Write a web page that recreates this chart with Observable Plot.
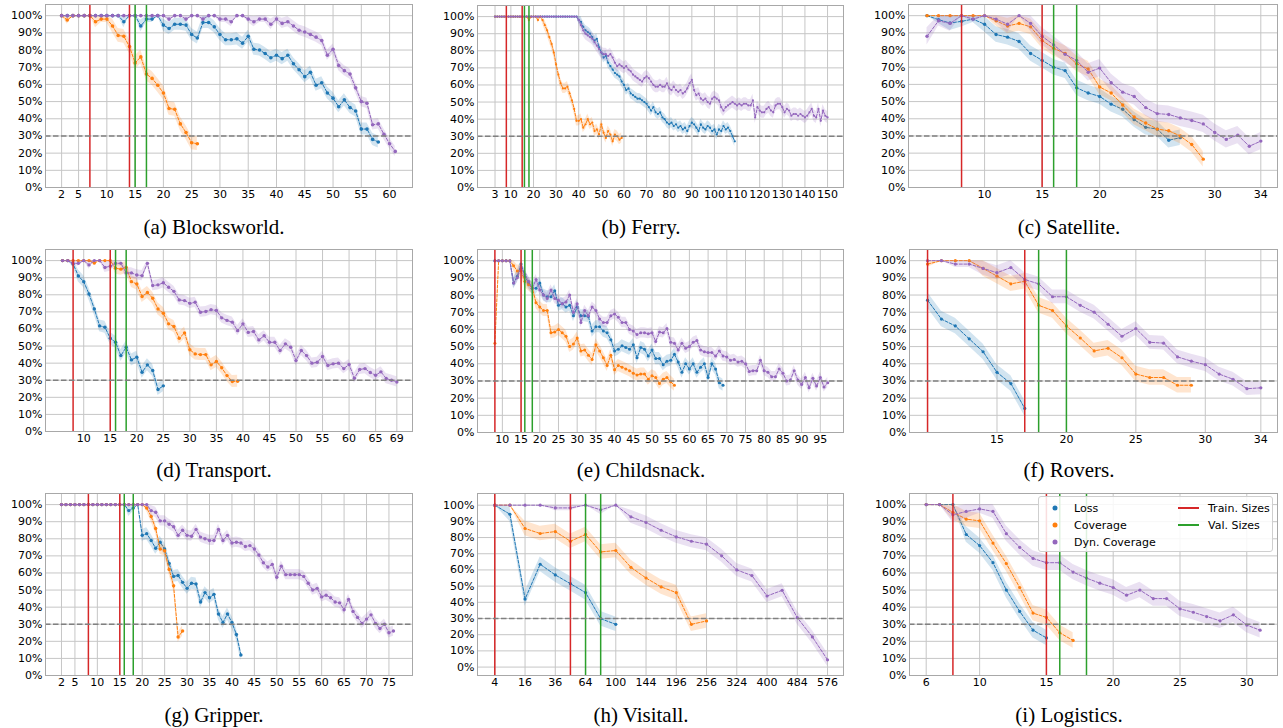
<!DOCTYPE html>
<html><head><meta charset="utf-8">
<script src="https://cdn.jsdelivr.net/npm/d3@7"></script>
<script src="https://cdn.jsdelivr.net/npm/@observablehq/plot@0.6"></script>
<style>
body{margin:0;background:#fff;width:1283px;height:728px;position:relative;overflow:hidden;font-family:"DejaVu Sans",sans-serif;}
.panel{position:absolute;}
.cap{position:absolute;font-family:"Liberation Serif","Times New Roman",serif;font-size:21px;color:#000;transform:translate(-50%,-50%);white-space:nowrap;}
.legend{position:absolute;background:rgba(255,255,255,0.85);border:1px solid #cfcfcf;border-radius:3px;font-family:"DejaVu Sans",sans-serif;font-size:11px;color:#000;}
.li{position:absolute;white-space:nowrap;transform:translateY(-50%);}
.ld{position:absolute;width:5px;height:5px;border-radius:50%;transform:translate(-50%,-50%);}
.ll{position:absolute;height:2px;width:21px;transform:translateY(-50%);}
</style></head><body>
<script>
// ---------- data (values in %) ----------
const yTicks = [0,10,20,30,40,50,60,70,80,90,100];

// (a) Blocksworld, sizes from 2
const blocksTicks = [2,5,10,15,20,25,30,35,40,45,50,55,60];
const blocksLoss = [100,100,100,100,100,100,100,100,100,100, 100,96.5,100,100,94,98,98,100,94.5,92.5,
  95,95,94.5,89,87,96,96,93.5,89,86, 86,86.5,84,88,80.5,80,78,75.5,77,75,
  77,72,68.5,64.5,67,59.5,61,55,52,47, 51,46.5,44.5,34,34,28,26.5];
const blocksCov = [100,97.5,100,100,100,100,96.5,98,98,94,88.5,88,82,72.5,76,66,63.5,59.5,55,46,45.5,37,32,26,25.5];
const blocksDyn = [100,100,100,100,100,100,100,100,100,100, 100,100,100,100,100,100,100,100,100,98,
  100,100,98,100,100,98,100,100,98,98, 96.5,100,100,98,96.5,98,98,95,98,95.5,
  96.5,94,91.5,90.5,89,87.5,85.5,77,80.5,71, 68,66,58,50,49,36.5,37,31,25.5,21];
const blocksTrain = [7,14], blocksVal = [15,17];

// (b) Ferry, sizes from 3
const ferryTicks = [3,10,20,30,40,50,60,70,80,90,100,110,120,130,140,150];
const ferryLoss = [100,100,100,100,100,100,100,100,100,100, 100,100,100,100,100,100,100,100,100,100,
  100,100,100,100,100,100,100,100,100,100, 100,100,100,100,100,100,100,
  98,97,94,92,91,90,88,86,87,82, 79,76,77,73,71,69,67,66,65,62, 60,57,58,55,54,53,52,52,51,50,
  49,47,45,47,44,43,44,41,40,38, 37,38,36,37,35,36,34,35,33,36, 38,37,35,33,37,35,34,36,35,33,
  34,31,34,33,36,34,35,33,30,27];
const ferryCov = [100,100,100,100,100,100,100,100,100,100, 100,100,100,100,100,98,100,100,100,98,
  100,98,95,92,88,84,79,72,66,61, 58,58,59,55,51,46,39,39,40,35, 37,40,37,38,33,34,31,37,32,29,
  33,31,27,31,30,28,29];
const ferryDyn = [100,100,100,100,100,100,100,100,100,100, 100,100,100,100,100,100,100,100,100,100,
  100,100,100,100,100,100,100,100,100,100, 100,100,100,100,100,100,100,
  98,95,92,90,89,88,87,85,83,81, 79,78,78,77,78,76,73,71,72,71, 70,71,69,68,66,65,64,63,62,64,
  65,64,62,60,59,59,60,59,59,61, 58,57,59,57,56,57,55,56,58,61, 63,57,54,55,52,51,52,50,49,52,
  53,52,51,47,45,47,48,49,50,49, 48,49,48,49,49,48,48,51,41,47, 45,44,44,46,47,45,44,48,49,49,
  47,44,46,45,42,43,43,42,43,42, 41,42,44,46,42,41,46,39,45,42,41];
const ferryTrain = [8,15], ferryVal = [16,18];

// (c) Satellite, sizes from 5
const satTicks = [10,15,20,25,30,34];
const satLoss = [100,97.7,95.7,96.7,98,95,89,87.5,85,78,74,70,68,58,55,53,48.5,45.5,39.5,35,34,27.5,29];
const satCov = [100,100,100,100,100,100,97,94,95.5,93.5,85.5,81,78,72,69,58.5,55,48,41,37.5,34,33,30,25,16.5];
const satDyn = [88,97,95.5,100,98,100,98,95,100,95.5,88,83,77.5,74,67,69.5,61,55.5,53,46.5,43,42.5,40.5,39,37,32,28,30.5,24,27];
const satTrain = [8,15], satVal = [16,18];

// (d) Transport, sizes from 6
const transTicks = [10,15,20,25,30,35,40,45,50,55,60,65,69];
const transLoss = [100,100,98,91,87.7,80.5,71.7,61.8,61,54.6,52.2,44.4,49.3,41.9,43.5,34.7,39,35.7,24.6,26.7];
const transCov = [100,100,100,100,100,100,98.6,100,100,100,95.5,95,96,87.7,86.3,79,81.3,78,71.7,69.2,
  63,61.4,54.6,57.7,47.8,45.4,45,45,39,41,37.3,32.7,29.3,29.4];
const transDyn = [100,100,98.4,98.4,100,97.5,100,100,96,96.7,98.4,98.4,92.8,92.8,91.6,91.2,98.4,85.4,85.8,87,
  84.4,82,77,76.6,75,75.6,69.8,70.2,71.3,70.8,66.5,65,64,59,63,58,58.5,53.6,56,52.2,
  52.2,47.4,51.3,49.3,41.5,47.4,44.4,40,40.5,43.9,38.6,39.6,40,36.8,39.2,31.2,36.3,36.8,34.5,32.9,
  34.9,31,30,29];
const transTrain = [8,15], transVal = [16,18];

// (e) Childsnack, sizes from 8
const childTicks = [10,15,20,25,30,35,40,45,50,55,60,65,70,75,80,85,90,95];
const childLoss = [100,100,100,100,100,87,91,98,91,87, 84,84,87,80,79,79,82.5,74,75,73,
  74,68,73,68,68,67.5,59,61.5,61.5,59, 58,54,47.5,48.5,50.5,49.5,48.5,51,43.5,49.5,
  48.5,44.5,48,43,43,39.5,41.5,42,45.5,41, 35,40,37,40,35,38,40,32,40,37, 29,27.5];
const childCov = [52,100,100,100,100,97,94,94,88,86, 84,75.5,73,71,71,58,58.5,60,58,56,
  50,51.5,55,47.5,48,45,42.5,51,47.5,43.5, 39,45,36.5,39,38,37,36,34.5,33.5,34,
  34,31,33,32,28.5,31,32,29.5,27.5];
const childDyn = [100,100,100,100,100,87,90,96,92,88, 84,89,83,80,78,83,78,77,75,76,
  80,70,75,64,71,68,73,71,66,64, 64,68,69,67,64,64,60,59,57,58, 58,57.5,58,53,58.5,58,60.5,52.5,52,48,
  52,49,50,52.5,53.5,48,47,46.5,46.5,44.5, 47.5,44.5,44,42,42.5,41,41.5,40,35.5,36,
  36,42,36,35,32.5,32.5,37,34.5,30,30.5, 36,30.5,28,32,26,31.5,27,32,26.5,29];
const childTrain = [8,15], childVal = [16,18];

// (f) Rovers, sizes from 10
const roversTicks = [15,20,25,30,34];
const roversLoss = [77,66,62,54.5,47,35,28.5,14];
const roversCov = [98,100,100,100,95.5,91,86.5,88,74,71,62,55,47.5,49,43.5,34,32,32,27.5,27.5];
const roversDyn = [100,100,98,98,95.5,93,96,89,86.5,79,79,74,70,63,56,60.5,52.5,52,44,41.5,39.5,34,31,25.5,26];
const roversTrain = [10,17], roversVal = [18,20];

// (g) Gripper, sizes from 2
const gripTicks = [2,5,10,15,20,25,30,35,40,45,50,55,60,65,70,75];
const gripLoss = [100,100,100,100,100,100,100,100,100,100, 100,100,100,100,100,96.5,98,100,82,83,
  79,74.5,78,74,65.5,58,58.5,54.5,51,54, 53.5,43,48.5,45.5,47.5,36,31,36,31,24, 12];
const gripCov = [100,100,100,100,100,100,100,100,100,100, 100,100,100,100,100,100,100,100,100,98,
  93,86,74,73,62,52.5,22.5,26];
const gripDyn = [100,100,100,100,100,100,100,100,100,100, 100,100,100,100,100,100,100,100,100,100,
  96.5,95.5,90.5,90.5,88.5,87,82,85,82,81.5, 85.5,81,80,79,79,85.5,79,82,77.5,78,
  77.5,75.5,76,74,70.5,66,63.5,65,57.5,64, 59,59,59,59,58,54,50,51,46,47,
  45.5,43,42.5,38.5,44.5,37.5,34,30.5,33,35.5, 30.5,27.5,30,25,26];
const gripTrain = [8,15], gripVal = [16,18];

// (h) Visitall, explicit sizes (square grid sizes)
const visitTicks = [4,16,36,64,100,144,196,256,324,400,484,576];
const visitSizes = [4,9,16,25,36,49,64,81,100,121,144,169,196,225,256,289,324,361,400,441,484,529,576];
const visitLoss = [100,94.4,42,63.5,56.9,51.5,46,29.9,26.4];
const visitCov = [100,100,85.6,82.5,83.7,77.7,81.9,71.1,72,61.6,55,49.5,46,26.4,28.5];
const visitDyn = [100,100,100,100,98.3,98.3,100,97.1,100,92.8,89.3,84.5,80.4,77.7,75.9,68.7,60,56.5,43.9,47.4,30.5,18.6,4.5];
const visitTrain = [4,49], visitVal = [64,81];

// (i) Logistics, sizes from 6
const logTicks = [6,10,15,20,25,30];
const logLoss = [100,100,100,82.5,76,66,50,37.5,26.5,22];
const logCov = [100,100,95.5,91.5,90.5,77.5,65.5,51.5,36.5,34,25,20.5];
const logDyn = [100,100,94,96,97.5,96,83,75,68.5,66,66,60.5,57,54,51.5,47,50,45,45,39,37,34.5,32,35.5,29.5,26.5];
const logTrain = [8,15], logVal = [16,18];

// band half-widths (loss, coverage, dyn. coverage)
const bandW = {
  blocks:[3.5,4,3], ferry:[3,3,3.5], sat:[4.5,4.5,5], trans:[3.5,3.5,3], child:[3.5,3.5,3],
  rovers:[4.5,4.5,4], grip:[3.5,3,3], visit:[4.5,4.5,4], log:[4.5,4.5,4.5]
};

const seriesNames = ["Loss","Coverage","Dyn. Coverage"];
const colors = ["#1f77b4","#ff7f0e","#9467bd"];

// ---------- layout ----------
const panels = [
  {cap:"(a) Blocksworld.", frame:[45,4,412,187], xd:[-0.85,64.05], ticks:blocksTicks, start:2, s:[blocksLoss,blocksCov,blocksDyn], train:blocksTrain, val:blocksVal, band:bandW.blocks, r:1.8, cx:214, cy:227},
  {cap:"(b) Ferry.", frame:[477,5,843,187], xd:[-4.75,157.05], ticks:ferryTicks, start:3, s:[ferryLoss,ferryCov,ferryDyn], train:ferryTrain, val:ferryVal, band:bandW.ferry, r:1.1, cx:641, cy:227},
  {cap:"(c) Satellite.", frame:[908,4,1277,187], xd:[3.39,35.45], ticks:satTicks, start:5, s:[satLoss,satCov,satDyn], train:satTrain, val:satVal, band:bandW.sat, r:1.7, cx:1069, cy:227},
  {cap:"(d) Transport.", frame:[45,249,412,431], xd:[2.8,71.95], ticks:transTicks, start:6, s:[transLoss,transCov,transDyn], train:transTrain, val:transVal, band:bandW.trans, r:1.7, cx:214, cy:470},
  {cap:"(e) Childsnack.", frame:[477,249,843,432], xd:[3.35,101.2], ticks:childTicks, start:8, s:[childLoss,childCov,childDyn], train:childTrain, val:childVal, band:bandW.child, r:1.5, cx:641, cy:470},
  {cap:"(f) Rovers.", frame:[909,249,1277,432], xd:[8.7,35.2], ticks:roversTicks, start:10, s:[roversLoss,roversCov,roversDyn], train:roversTrain, val:roversVal, band:bandW.rovers, r:1.6, cx:1069, cy:470},
  {cap:"(g) Gripper.", frame:[45,493,412,675], xd:[-1.56,80.25], ticks:gripTicks, start:2, s:[gripLoss,gripCov,gripDyn], train:gripTrain, val:gripVal, band:bandW.grip, r:1.7, cx:214, cy:715},
  {cap:"(h) Visitall.", frame:[477,493,843,675], xd:[0.733,627.8], xType:"sqrt", sizes:visitSizes, yd:[-5.2,107.2], ticks:visitTicks, s:[visitLoss,visitCov,visitDyn], train:visitTrain, val:visitVal, band:bandW.visit, r:1.6, cx:641, cy:715},
  {cap:"(i) Logistics.", frame:[909,493,1277,675], xd:[4.75,32.3], ticks:logTicks, start:6, s:[logLoss,logCov,logDyn], train:logTrain, val:logVal, band:bandW.log, r:1.6, cx:1069, cy:715}
];

const mL = 45, mT = 4, mR = 6, mB = 24;
for (const p of panels) {
  const [L,T,R,B] = p.frame;
  const width = (R - L) + mL + mR, height = (B - T) + mT + mB;
  const marks = [
    Plot.gridX(p.ticks, {stroke:"#c6c6c6", strokeOpacity:1, strokeWidth:1}),
    Plot.gridY(yTicks, {stroke:"#c6c6c6", strokeOpacity:1, strokeWidth:1})
  ];
  p.s.forEach((vals, k) => {
    const h = p.band[k];
    const d = vals.map((v, i) => {
      const hw = Math.min(h, 100 - v);
      return {x: p.sizes ? p.sizes[i] : p.start + i, v, lo: v - hw, hi: v + hw, series: seriesNames[k]};
    });
    marks.push(
      Plot.areaY(d, {x:"x", y1:"lo", y2:"hi", fill:colors[k], fillOpacity:0.2}),
      Plot.line(d, {x:"x", y:"v", stroke:colors[k], strokeWidth:1, strokeDasharray:"3,1.6"}),
      Plot.dot(d, {x:"x", y:"v", fill:colors[k], r:p.r})
    );
  });
  marks.push(
    Plot.ruleX(p.train, {stroke:"#d62728", strokeWidth:1.5}),
    Plot.ruleX(p.val, {stroke:"#2ca02c", strokeWidth:1.5}),
    Plot.ruleY([30], {stroke:"#808080", strokeWidth:1.5, strokeDasharray:"5.5,2.5"}),
    Plot.frame({stroke:"#a8a8a8"}),
    Plot.axisX(p.ticks, {tickSize:0, tickPadding:3, label:null, fontSize:11}),
    Plot.axisY(yTicks, {tickSize:0, tickPadding:3, label:null, fontSize:11, tickFormat:d => d + "%"})
  );
  const svg = Plot.plot({
    width, height, marginLeft:mL, marginTop:mT, marginRight:mR, marginBottom:mB,
    x:{type:p.xType || "linear", domain:p.xd},
    y:{domain:p.yd || [0,106.5]},
    style:{fontFamily:"DejaVu Sans", fontSize:"11px", color:"#000", background:"transparent", overflow:"visible"},
    marks
  });
  const div = document.createElement("div");
  div.className = "panel";
  div.style.left = (L - mL) + "px";
  div.style.top = (T - mT) + "px";
  div.appendChild(svg);
  document.body.appendChild(div);
  const cap = document.createElement("div");
  cap.className = "cap";
  cap.style.left = p.cx + "px";
  cap.style.top = p.cy + "px";
  cap.textContent = p.cap;
  document.body.appendChild(cap);
}

// legend (in panel i)
const lg = document.createElement("div");
lg.className = "legend";
Object.assign(lg.style, {left:"1038px", top:"496px", width:"233px", height:"54px"});
const rowsY = [11, 28, 45];
seriesNames.forEach((n, k) => {
  const dot = document.createElement("div");
  dot.className = "ld";
  Object.assign(dot.style, {left:"16px", top:rowsY[k] + "px", background:colors[k]});
  lg.appendChild(dot);
  const t = document.createElement("div");
  t.className = "li";
  Object.assign(t.style, {left:"35px", top:rowsY[k] + "px"});
  t.textContent = n;
  lg.appendChild(t);
});
[["Train. Sizes","#d62728"],["Val. Sizes","#2ca02c"]].forEach(([n,c], k) => {
  const l = document.createElement("div");
  l.className = "ll";
  Object.assign(l.style, {left:"139px", top:rowsY[k] + "px", background:c});
  lg.appendChild(l);
  const t = document.createElement("div");
  t.className = "li";
  Object.assign(t.style, {left:"169px", top:rowsY[k] + "px"});
  t.textContent = n;
  lg.appendChild(t);
});
document.body.appendChild(lg);
</script>
</body></html>
